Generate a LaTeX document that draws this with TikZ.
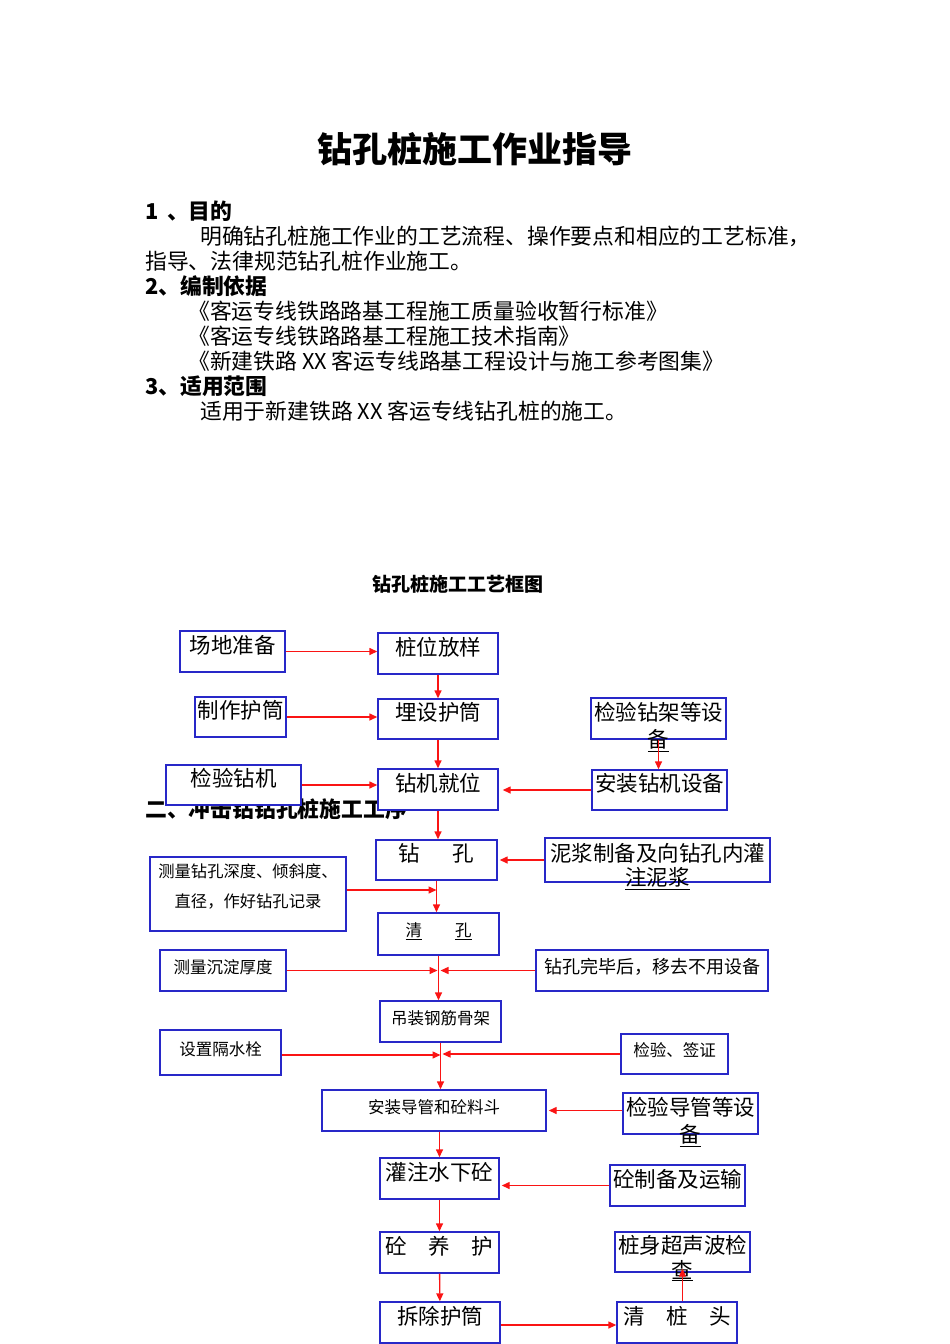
\documentclass[tikz,border=0pt]{standalone}
\usepackage{fontspec}
\setmainfont{Noto Sans CJK SC}
\usepackage{tikz}
\usetikzlibrary{arrows.meta}
\definecolor{boxblue}{RGB}{40,40,200}
\definecolor{arrowred}{RGB}{250,20,20}

\begin{document}
\begin{tikzpicture}[
      x=1pt, y=-1pt,
      every node/.style = {inner sep=0pt},
      box/.style = {shape=rectangle, draw=boxblue, fill=white,
        line width=1.4pt, align=center},
      big/.style = {box, font=\fontsize{21.5}{24}\selectfont,
        text height=18pt, text depth=14.6pt},
      small/.style = {box, font=\fontsize{16.5}{19}\selectfont,
        text height=14pt, text depth=8.4pt},
      note/.style = {box, font=\fontsize{16.3}{30}\selectfont},
      spill/.style = {font=\fontsize{21.5}{24}\selectfont},
      flow/.style = {draw=arrowred, line width=1.4pt,
        -{Triangle[length=8pt, width=7pt]}},
      body/.style = {anchor=west, font=\fontsize{21.8}{24}\selectfont},
      head/.style = {anchor=west, font=\fontsize{21.8}{24}\selectfont\bfseries}
    ]
      \useasboundingbox (0,0) rectangle (950,1344);

      % page text
      \node[font=\fontsize{35}{38}\selectfont\bfseries] (title) at (475,149) {钻孔桩施工作业指导};
      \node[head] (s1)  at (145,211) {1\hspace{0.4em}、目的};
      \node[body] (s1a) at (200,236) {明确钻孔桩施工作业的工艺流程、操作要点和相应的工艺标准，};
      \node[body] (s1b) at (145,261) {指导、法律规范钻孔桩作业施工。};
      \node[head] (s2)  at (145,286) {2、编制依据};
      \node[body] (s2a) at (188,311) {《客运专线铁路路基工程施工质量验收暂行标准》};
      \node[body] (s2b) at (188,336) {《客运专线铁路路基工程施工技术指南》};
      \node[body] (s2c) at (188,361) {《新建铁路 XX 客运专线路基工程设计与施工参考图集》};
      \node[head] (s3)  at (145,386) {3、适用范围};
      \node[body] (s3a) at (200,411) {适用于新建铁路 XX 客运专线钻孔桩的施工。};
      \node[font=\fontsize{19}{21}\selectfont\bfseries] (chart) at (458,584) {钻孔桩施工工艺框图};
      \node[head] (s4) at (145,809) {二、冲击钻钻孔桩施工工序};

      % boxes
      \node[big, minimum width=105, minimum height=41] (cdzb) at (232.5,651.5) {场地准备};
      \node[big, minimum width=120, minimum height=41] (zwfy) at (438,653.5) {桩位放样};
      \node[big, minimum width=91, minimum height=40] (zzht) at (240.5,717) {制作护筒};
      \node[big, minimum width=120, minimum height=40] (msht) at (438,719) {埋设护筒};
      \node[big, minimum width=135, minimum height=41] (jyzj) at (658.5,718.5) {检验钻架等设};
      \node[big, minimum width=135, minimum height=40] (jyzji) at (233.5,785) {检验钻机};
      \node[big, minimum width=120, minimum height=41] (zjjw) at (438,789.5) {钻机就位};
      \node[big, minimum width=135, minimum height=40] (azzj) at (659.5,790) {安装钻机设备};
      \node[big, minimum width=121, minimum height=40] (zk) at (436.5,860) {钻\hspace{1.5em}孔};
      \node[big, minimum width=225, minimum height=44] (njzb) at (657.5,860) {泥浆制备及向钻孔内灌};
      \node[note, minimum width=196, minimum height=74] (clzk) at (248,894) {测量钻孔深度、倾斜度、\\直径，作好钻孔记录\\[-13pt]\mbox{}};
      \node[small, minimum width=121, minimum height=42] (qk) at (438.5,934) {\underline{清}\hspace{2em}\underline{孔}};
      \node[small, minimum width=126, minimum height=41] (clcd) at (223,970.5) {测量沉淀厚度};
      \node[small, minimum width=232, minimum height=41, font=\fontsize{18}{20}\selectfont] (zkwb) at (652,970.5) {钻孔完毕后，移去不用设备};
      \node[small, minimum width=121, minimum height=41] (dzgj) at (440.5,1021.5) {吊装钢筋骨架};
      \node[small, minimum width=121, minimum height=45] (szgs) at (220.5,1052.5) {设置隔水栓};
      \node[small, minimum width=107, minimum height=40] (jyqz) at (674.5,1054) {检验、签证};
      \node[small, minimum width=224, minimum height=41] (azdg) at (434,1110.5) {安装导管和砼料斗};
      \node[big, minimum width=135, minimum height=41] (jydg) at (690.5,1113.5) {检验导管等设};
      \node[big, minimum width=119, minimum height=41] (gzsx) at (439.5,1178.5) {灌注水下砼};
      \node[big, minimum width=135, minimum height=41] (tzb) at (677.5,1185.5) {砼制备及运输};
      \node[big, minimum width=119, minimum height=41] (tyh) at (439.5,1252.5) {砼\hspace{1em}养\hspace{1em}护};
      \node[big, minimum width=135, minimum height=40] (zscs) at (682.5,1252) {桩身超声波检};
      \node[big, minimum width=120, minimum height=41] (ccht) at (440,1322.5) {拆除护筒};
      \node[big, minimum width=120, minimum height=41] (qzt) at (677,1322.5) {清\hspace{1em}桩\hspace{1em}头};

      % second lines that run out of their boxes
      \node[spill] (jyzj-2) at ([yshift=-1]jyzj.south) {\underline{备}};
      \node[spill] (njzb-2) at ([yshift=4]njzb.south) {\underline{注泥浆}};
      \node[spill] (jydg-2) at ([yshift=-1]jydg.south) {\underline{备}};
      \node[spill] (zscs-2) at ([yshift=2]zscs.south) {\underline{查}};

      % connectors
      \draw[flow] (cdzb.east) -- (cdzb.east -| zwfy.west);
      \draw[flow] (zwfy) -- (msht);
      \draw[flow] (zzht.east) -- (zzht.east -| msht.west);
      \draw[flow] (msht) -- (zjjw);
      \draw[flow] (jyzj.south) -- (jyzj.south |- azzj.north);
      \draw[flow] (jyzji.east) -- (jyzji.east -| zjjw.west);
      \draw[flow] (azzj.west) -- ([xshift=4]azzj.west -| zjjw.east);
      \draw[flow] (zjjw.south) -- (zjjw.south |- zk.north);
      \draw[flow] (njzb.west) -- ([xshift=2]njzb.west -| zk.east);
      \draw[flow] ([yshift=4]clzk.east) -- ([yshift=4]clzk.east -| zk.south);
      \draw[flow] (zk.south) -- (zk.south |- qk.north);
      \draw[flow] (clcd.east) -- ([xshift=-1]clcd.east -| qk.south);
      \draw[flow] (zkwb.west) -- ([xshift=2]zkwb.west -| qk.south);
      \draw[flow] (qk.south) -- (qk.south |- dzgj.north);
      \draw[flow] ([yshift=-2.5]szgs.east) -- ([yshift=-2.5]szgs.east -| dzgj.south);
      \draw[flow] (jyqz.west) -- ([xshift=2]jyqz.west -| dzgj.south);
      \draw[flow] (dzgj.south) -- (dzgj.south |- azdg.north);
      \draw[flow] ([yshift=3]jydg.west) -- ([xshift=2,yshift=3]jydg.west -| azdg.east);
      \draw[flow] (gzsx.north |- azdg.south) -- (gzsx.north);
      \draw[flow] (tzb.west) -- ([xshift=2]tzb.west -| gzsx.east);
      \draw[flow] (gzsx) -- (tyh);
      \draw[flow] (tyh) -- (ccht);
      \draw[flow] ([yshift=-2.5]ccht.east) -- ([yshift=-2.5]ccht.east -| qzt.west);
      \draw[flow] (zscs.south |- qzt.north) -- ([yshift=4]zscs.south);
  \end{tikzpicture}
\end{document}
